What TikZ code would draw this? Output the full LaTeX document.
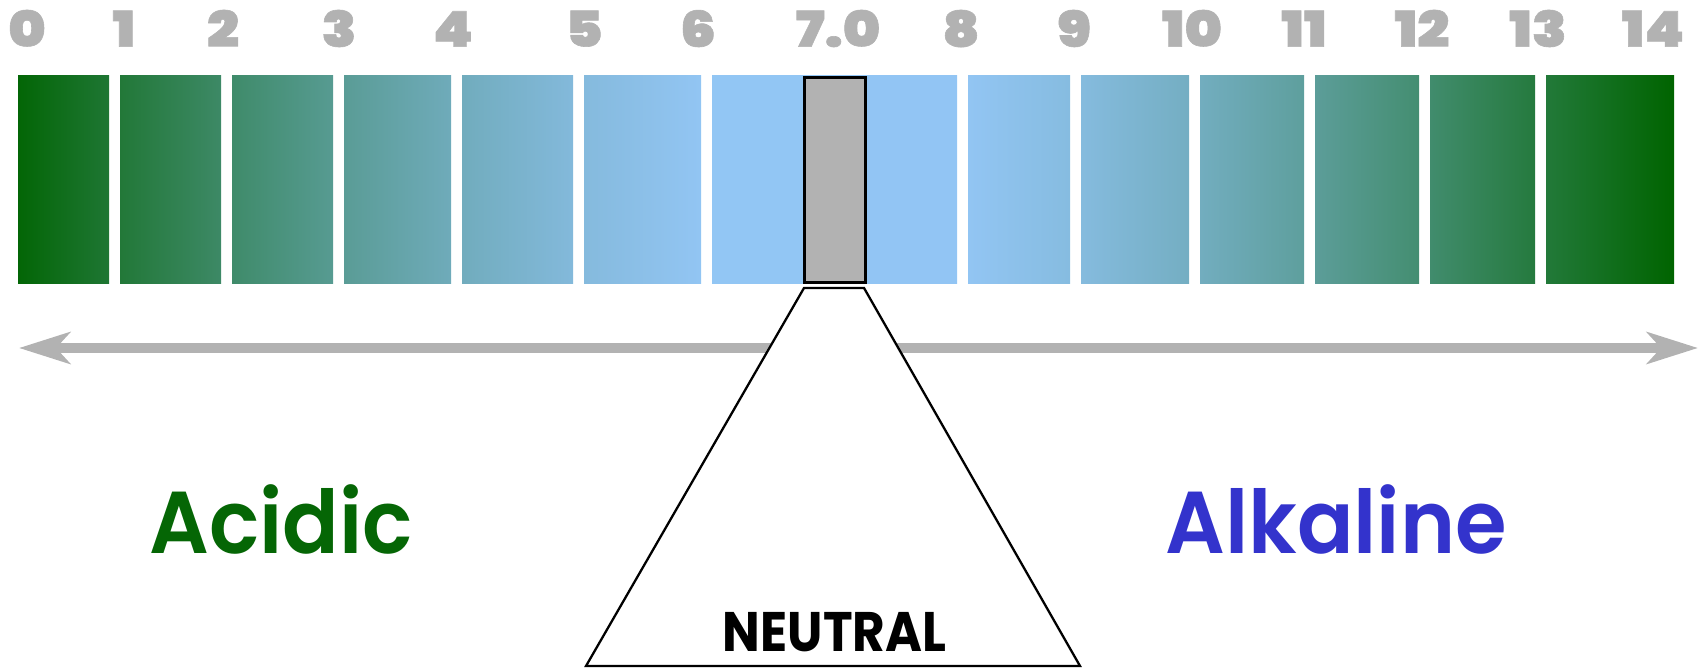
\documentclass[tikz,border=0pt]{standalone}
\usepackage{fontspec}
\setmainfont{Poppins}
\newfontfamily\labelfont{Poppins SemiBold}[FakeStretch=0.95]
\newfontfamily\numfont{Poppins Black}[FakeStretch=1.15,FakeBold=1.2]
\newfontfamily\neutralfont{Poppins Bold}[FakeStretch=0.9]
\usetikzlibrary{arrows.meta}
\definecolor{phgray}{RGB}{178,178,178}
\definecolor{acidgreen}{RGB}{5,102,5}
\definecolor{alkblue}{RGB}{51,51,204}
% colour of the scale at position #2 (green at the ends, light blue at pH 7)
\newcommand\phcolor[2]{%
  \pgfmathsetmacro\phu{max(0,1-abs(#2-834)/828)}%
  \pgfmathtruncatemacro\phr{153*(1-(1-\phu)^1.7)}%
  \pgfmathtruncatemacro\phg{100+104*(1-(1-\phu)^1.5)}%
  \pgfmathtruncatemacro\phb{255*(1-(1-\phu)^1.7)}%
  \definecolor{#1}{RGB}{\phr,\phg,\phb}}

\begin{document}
\begin{tikzpicture}[x=0.2mm,y=-0.2mm,
    >={Stealth[length=29pt,width=18pt,inset=8pt]},
    num/.style={anchor=base,text=phgray,font=\numfont\fontsize{28}{30}\selectfont},
    side/.style={anchor=base,font=\labelfont\fontsize{50}{52}\selectfont}]
    \useasboundingbox (0,0) rectangle (1703,668);
    % colour bars
    \foreach \a/\b in {18/109,120/221,232/333,344/451,462/573,584/701,712/957,
                       968/1070,1081/1189,1200/1304,1315/1419,1430/1535,1546/1674}{
        \phcolor{barl}{\a}
        \phcolor{barr}{\b}
        \shade[left color=barl,right color=barr] (\a,76) rectangle (\b,284);
    }
    % pH numbers
    \foreach \x/\t [count=\i] in {27/0,124/1,223/2,339/3,453/4,584/5,698/6,838/7.0,
                                  961/8,1074/9,1192/10,1304/11,1422/12,1538/13,1653/14}
        \node[num] (n\i) at (\x,46.7) {\t};
    % scale arrow
    \coordinate (lo) at (19,348);
    \coordinate (hi) at (1698,348);
    \draw[phgray,line width=6pt,<->] (lo) -- (hi);
    % stand and neutral marker
    \draw[line width=1.3pt,fill=white] (586,666) -- (804,288) -- (864,288) -- (1080,666) -- cycle;
    \draw[line width=1.7pt,fill=phgray] (804.5,77.5) rectangle (865,282.5);
    % labels
    \node[side,text=acidgreen] (acid) at (281,553) {Acidic};
    \node[side,text=alkblue] (alk) at (1336,553) {Alkaline};
    \node[anchor=base,font=\neutralfont\fontsize{31.7}{33}\selectfont] (neutral) at (834.5,651.7) {NEUTRAL};
\end{tikzpicture}
\end{document}
